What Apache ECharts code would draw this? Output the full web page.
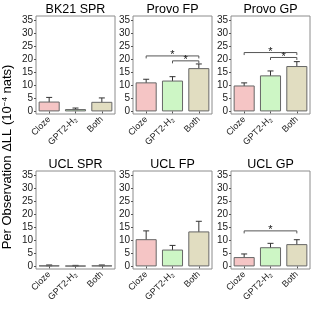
<!DOCTYPE html>
<html><head><meta charset="utf-8">
<script src="https://cdn.jsdelivr.net/npm/echarts@6/dist/echarts.min.js"></script>
<style>html,body{margin:0;padding:0;background:#fff}#c{width:314px;height:314px}</style>
</head><body><div id="c"></div>
<script>
const categories = ['Cloze', 'GPT2-H2', 'Both'];
const panelTitles = ['BK21 SPR', 'Provo FP', 'Provo GP', 'UCL SPR', 'UCL FP', 'UCL GP'];
const yTicks = [0, 5, 10, 15, 20, 25, 30, 35];
const barColors = ['#f5c5c5', '#cdf6c5', '#e1ddc1'];

const bk21SprMean = [3.8, 0.9, 3.7];
const bk21SprErr = [1.6, 0.4, 1.5];
const provoFpMean = [11.2, 11.9, 16.7];
const provoFpErr = [1.2, 1.5, 1.6];
const provoGpMean = [10.0, 13.9, 17.5];
const provoGpErr = [1.0, 1.7, 1.7];
const uclSprMean = [0.4, 0.3, 0.4];
const uclSprErr = [0.15, 0.1, 0.15];
const uclFpMean = [10.5, 6.5, 13.5];
const uclFpErr = [3.2, 1.6, 3.9];
const uclGpMean = [3.6, 7.4, 8.6];
const uclGpErr = [1.2, 1.5, 1.7];

// significance brackets: [fromIndex, toIndex, height]
const bk21SprSig = [];
const provoFpSig = [[0, 2, 21.4], [1, 2, 19.5]];
const provoGpSig = [[0, 2, 22.7], [1, 2, 20.8]];
const uclSprSig = [];
const uclFpSig = [];
const uclGpSig = [[0, 2, 13.7]];

const means = [bk21SprMean, provoFpMean, provoGpMean, uclSprMean, uclFpMean, uclGpMean];
const errs = [bk21SprErr, provoFpErr, provoGpErr, uclSprErr, uclFpErr, uclGpErr];
const sigs = [bk21SprSig, provoFpSig, provoGpSig, uclSprSig, uclFpSig, uclGpSig];

const FONT = 'Liberation Sans, Arial, Helvetica, sans-serif';
const lefts = [36, 133, 231];
const tops = [16, 171];
const W = 79, H = 98;

const grid = [], xAxis = [], yAxis = [], series = [], graphic = [];
for (let p = 0; p < 6; p++) {
  const col = p % 3, row = Math.floor(p / 3);
  grid.push({left: lefts[col], top: tops[row], width: W, height: H, show: true,
    borderColor: '#8c8c8c', borderWidth: 1, backgroundColor: '#fff'});
  xAxis.push({type: 'category', gridIndex: p, data: categories,
    axisLine: {show: false},
    axisTick: {show: true, alignWithLabel: true, length: 2, lineStyle: {color: '#555'}},
    axisLabel: {rotate: 45, fontSize: 9, fontFamily: FONT, color: '#222', margin: 4, interval: 0,
      formatter: v => v === 'GPT2-H2' ? 'GPT2-H{sub|2}' : v,
      rich: {sub: {fontSize: 6, fontFamily: FONT, color: '#222', verticalAlign: 'bottom', padding: [5, 0, 0, 0]}}}});
  yAxis.push({type: 'value', gridIndex: p, min: -1, max: 36.8,
    splitLine: {show: false}, axisLine: {show: false},
    axisTick: {show: true, length: 2, lineStyle: {color: '#555'}, customValues: yTicks},
    axisLabel: {fontSize: 10, fontFamily: FONT, color: '#1a1a1a', margin: 3, customValues: yTicks}});
  series.push({type: 'bar', xAxisIndex: p, yAxisIndex: p, barWidth: '80%',
    data: means[p].map((v, i) => ({value: v, itemStyle: {color: barColors[i]}})),
    itemStyle: {borderColor: '#666', borderWidth: 1}, silent: true, animation: false});
  series.push({type: 'custom', xAxisIndex: p, yAxisIndex: p, animation: false, silent: true,
    data: means[p].map((v, i) => [i, v - errs[p][i], v + errs[p][i]]),
    renderItem: (params, api) => {
      const lo = api.coord([api.value(0), api.value(1)]);
      const hi = api.coord([api.value(0), api.value(2)]);
      const c = 3;
      const st = {stroke: '#333', lineWidth: 1};
      return {type: 'group', children: [
        {type: 'line', shape: {x1: lo[0], y1: lo[1], x2: hi[0], y2: hi[1]}, style: st},
        {type: 'line', shape: {x1: lo[0] - c, y1: lo[1], x2: lo[0] + c, y2: lo[1]}, style: st},
        {type: 'line', shape: {x1: hi[0] - c, y1: hi[1], x2: hi[0] + c, y2: hi[1]}, style: st}
      ]};
    }});
  if (sigs[p].length) {
    series.push({type: 'custom', xAxisIndex: p, yAxisIndex: p, animation: false, silent: true,
      data: sigs[p],
      renderItem: (params, api) => {
        const a = api.coord([api.value(0), api.value(2)]);
        const b = api.coord([api.value(1), api.value(2)]);
        const d = 2.5;
        return {type: 'group', children: [
          {type: 'polyline', shape: {points: [[a[0], a[1] + d], [a[0], a[1]], [b[0], b[1]], [b[0], b[1] + d]]},
            style: {stroke: '#555', lineWidth: 1, fill: null}},
          {type: 'text', x: (a[0] + b[0]) / 2, y: a[1] - 1,
            style: {text: '*', fontSize: 11, fontFamily: FONT, fill: '#111', align: 'center', verticalAlign: 'middle'}}
        ]};
      }});
  }
  graphic.push({type: 'text', x: lefts[col] + W / 2, y: row === 0 ? 10 : 164.5,
    style: {text: panelTitles[p], fontSize: 12.5, fontFamily: FONT, fill: '#000', align: 'center', verticalAlign: 'middle'}});
}
graphic.push({type: 'text', x: 7, y: 157, rotation: Math.PI / 2,
  style: {text: 'Per Observation ΔLL (10{sup|−4} nats)', fontSize: 13, fontFamily: FONT, fill: '#000',
    align: 'center', verticalAlign: 'middle',
    rich: {sup: {fontSize: 8, fontFamily: FONT, fill: '#000', verticalAlign: 'top', padding: [0, 0, 4, 0]}}}});

const chart = echarts.init(document.getElementById('c'), null, {renderer: 'canvas'});
chart.setOption({animation: false, backgroundColor: '#fff', grid, xAxis, yAxis, series, graphic});
</script></body></html>
